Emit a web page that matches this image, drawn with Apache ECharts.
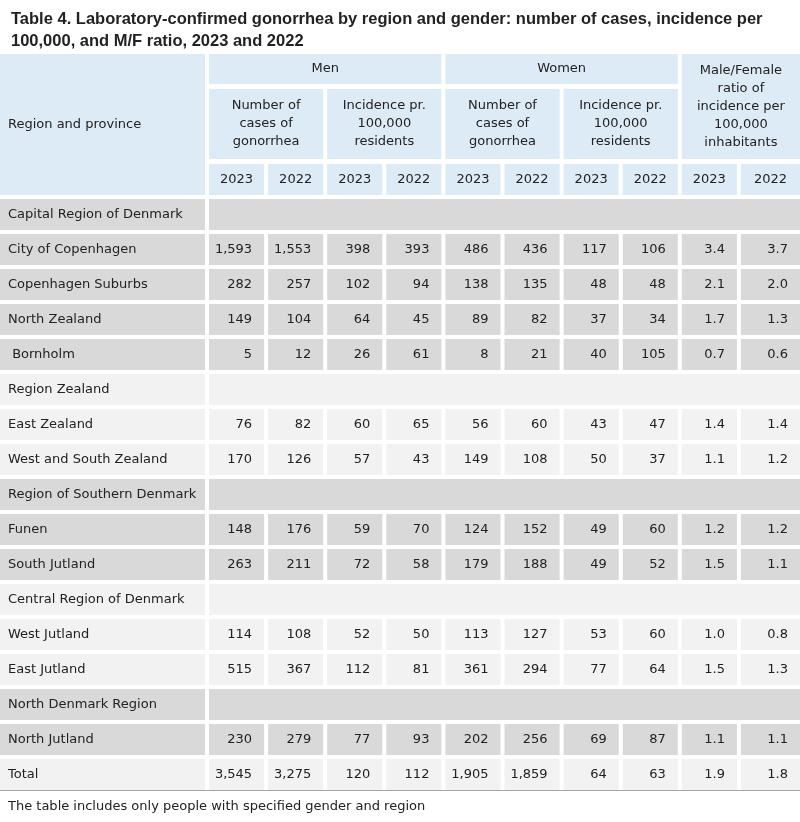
<!DOCTYPE html>
<html>
<head>
<meta charset="utf-8">
<script src="https://cdn.jsdelivr.net/npm/echarts@6/dist/echarts.min.js"></script>
<style>html,body{margin:0;padding:0;background:#fff}#Chart1{width:800px;height:822px}</style>
</head>
<body>
<div id="Chart1"></div>
<script>
// table data
var years = ["2023", "2022"];
var groups = ["Men", "Women"];
var measures = ["Number of\ncases of\ngonorrhea", "Incidence pr.\n100,000\nresidents"];
var ratioTitle = "Male/Female\nratio of\nincidence per\n100,000\ninhabitants";
var rowLabels = ["Capital Region of Denmark", "City of Copenhagen", "Copenhagen Suburbs", "North Zealand", " Bornholm",
  "Region Zealand", "East Zealand", "West and South Zealand",
  "Region of Southern Denmark", "Funen", "South Jutland",
  "Central Region of Denmark", "West Jutland", "East Jutland",
  "North Denmark Region", "North Jutland", "Total"];
// group band for shading (0 = grey, 1 = light)
var rowBand = [0, 0, 0, 0, 0, 1, 1, 1, 0, 0, 0, 1, 1, 1, 0, 0, 1];
var menCases23 = [null, 1593, 282, 149, 5, null, 76, 170, null, 148, 263, null, 114, 515, null, 230, 3545];
var menCases22 = [null, 1553, 257, 104, 12, null, 82, 126, null, 176, 211, null, 108, 367, null, 279, 3275];
var menInc23 = [null, 398, 102, 64, 26, null, 60, 57, null, 59, 72, null, 52, 112, null, 77, 120];
var menInc22 = [null, 393, 94, 45, 61, null, 65, 43, null, 70, 58, null, 50, 81, null, 93, 112];
var womenCases23 = [null, 486, 138, 89, 8, null, 56, 149, null, 124, 179, null, 113, 361, null, 202, 1905];
var womenCases22 = [null, 436, 135, 82, 21, null, 60, 108, null, 152, 188, null, 127, 294, null, 256, 1859];
var womenInc23 = [null, 117, 48, 37, 40, null, 43, 50, null, 49, 49, null, 53, 77, null, 69, 64];
var womenInc22 = [null, 106, 48, 34, 105, null, 47, 37, null, 60, 52, null, 60, 64, null, 87, 63];
var ratio23 = [null, 3.4, 2.1, 1.7, 0.7, null, 1.4, 1.1, null, 1.2, 1.5, null, 1.0, 1.5, null, 1.1, 1.9];
var ratio22 = [null, 3.7, 2.0, 1.3, 0.6, null, 1.4, 1.2, null, 1.2, 1.1, null, 0.8, 1.3, null, 1.1, 1.8];

var valueCols = [menCases23, menCases22, menInc23, menInc22, womenCases23, womenCases22, womenInc23, womenInc22, ratio23, ratio22];

// layout
var GAP = 4, X0 = 209, PITCH = 59.1, TOP = 54, ROWH = 35;
function colL(i) { return X0 + PITCH * i; }
function colR(i) { return X0 + PITCH * (i + 1) - GAP; }
var BLUE = "#ddebf7", GREY = "#d9d9d9", LIGHT = "#f2f2f2";

var cells = [];
function cell(x0, y0, x1, y1, text, fill, align) {
  cells.push([x0, y0, x1, y1, text, fill, align || "center"]);
}
// header
cell(0, TOP, X0 - GAP, 195, "Region and province", BLUE, "left");
groups.forEach(function (g, gi) {
  cell(colL(gi * 4), TOP, colR(gi * 4 + 3), 84, g, BLUE);
  measures.forEach(function (m, mi) {
    cell(colL(gi * 4 + mi * 2), 89, colR(gi * 4 + mi * 2 + 1), 159, m, BLUE);
  });
});
cell(colL(8), TOP, 800, 159, ratioTitle, BLUE);
for (var c = 0; c < 10; c++) {
  cell(colL(c), 164, c === 9 ? 800 : colR(c), 195, years[c % 2], BLUE);
}
// body
rowLabels.forEach(function (lab, r) {
  var y0 = 199 + ROWH * r, y1 = y0 + ROWH - GAP;
  var fill = rowBand[r] ? LIGHT : GREY;
  cell(0, y0, X0 - GAP, y1, lab, fill, "left");
  if (menCases23[r] == null) {
    cell(X0, y0, 800, y1, "", fill);
    return;
  }
  valueCols.forEach(function (col, ci) {
    var v = col[r];
    var t = ci >= 8 ? v.toFixed(1) : v.toLocaleString("en-US");
    cell(colL(ci), y0, ci === 9 ? 800 : colR(ci), y1, t, fill, "right");
  });
});

var Chart1 = echarts.init(document.getElementById("Chart1"));
var FONT = "'DejaVu Sans', sans-serif";
option = {
  animation: false,
  title: {
    text: "Table 4. Laboratory-confirmed gonorrhea by region and gender: number of cases, incidence per\n100,000, and M/F ratio, 2023 and 2022",
    left: 6,
    top: 3,
    textStyle: { fontSize: 16.5, fontWeight: "bold", color: "#222", fontFamily: "'Liberation Sans', sans-serif", lineHeight: 22 }
  },
  grid: { left: 0, right: 0, top: 0, bottom: 0 },
  xAxis: { type: "value", min: 0, max: 800, show: false },
  yAxis: { type: "value", min: 0, max: 822, inverse: true, show: false },
  graphic: [
    { type: "line", z: 100, shape: { x1: 0, y1: 790.5, x2: 800, y2: 790.5 }, style: { stroke: "#a6a6a6", lineWidth: 1 } },
    { type: "text", left: 8, top: 800, style: { text: "The table includes only people with specified gender and region", fontSize: 13, fill: "#222", fontFamily: FONT } }
  ],
  series: [{
    type: "custom",
    clip: false,
    data: cells,
    renderItem: function (params, api) {
      var p0 = api.coord([api.value(0), api.value(1)]);
      var p1 = api.coord([api.value(2), api.value(3)]);
      var d = cells[params.dataIndex];
      var align = d[6];
      var tx = align === "left" ? p0[0] + 8 : align === "right" ? p1[0] - 12 : (p0[0] + p1[0]) / 2;
      return {
        type: "group",
        children: [
          { type: "rect", shape: { x: p0[0], y: p0[1], width: p1[0] - p0[0], height: p1[1] - p0[1] }, style: { fill: d[5] } },
          { type: "text", style: { x: tx, y: (p0[1] + p1[1]) / 2, text: d[4], align: align, verticalAlign: "middle",
            fontSize: 13, lineHeight: 18, fill: "#222", fontFamily: FONT } }
        ]
      };
    }
  }]
};
Chart1.setOption(option);
</script>
</body>
</html>
